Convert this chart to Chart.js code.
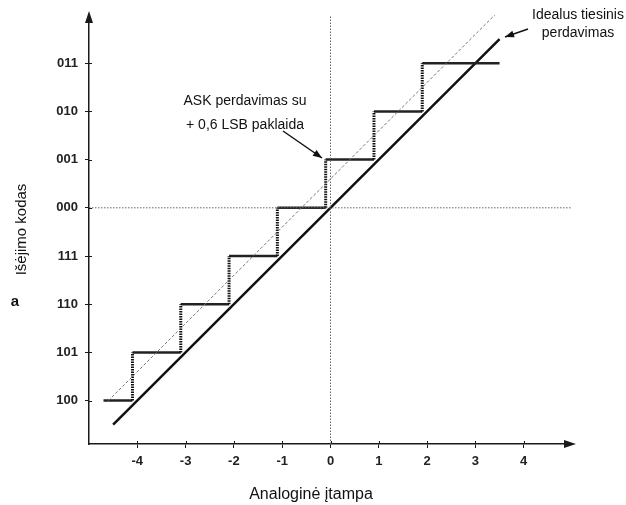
<!DOCTYPE html>
<html>
<head>
<meta charset="utf-8">
<script src="https://cdn.jsdelivr.net/npm/chart.js@4"></script>
<style>
  html, body { margin: 0; padding: 0; background: #fff; }
  #wrap { width: 626px; height: 505px; }
</style>
</head>
<body>
<div id="wrap"><canvas id="adcChart" width="626" height="505"></canvas></div>
<script>
// output codes, from the bottom up
const codeValues = [-4, -3, -2, -1, 0, 1, 2, 3];
const codeLabels = ["100", "101", "110", "111", "000", "001", "010", "011"];
const xTicks = [-4, -3, -2, -1, 0, 1, 2, 3, 4];

// staircase with +0,6 LSB error: step edges along x
const stepEdges = [-4.7, -4.1, -3.1, -2.1, -1.1, -0.1, 0.9, 1.9, 3.5];

// ideal linear transfer line
const idealLine = [{ x: -4.5, y: -4.5 }, { x: 3.5, y: 3.5 }];
// thin dashed shifted line
const shiftedLine = [{ x: -4.6, y: -4.0 }, { x: 3.5, y: 4.1 }];

const xMin = -5, xMax = 5, yMin = -4.9, yMax = 4;

// build the treads (horizontal parts) and the risers (vertical parts)
const treads = [];
const risers = [];
for (let i = 0; i < codeValues.length; i++) {
  treads.push({ x: stepEdges[i], y: codeValues[i] });
  treads.push({ x: stepEdges[i + 1], y: codeValues[i] });
  treads.push({ x: stepEdges[i + 1], y: null });
  if (i < codeValues.length - 1) {
    risers.push({ x: stepEdges[i + 1], y: codeValues[i] });
    risers.push({ x: stepEdges[i + 1], y: codeValues[i + 1] });
    risers.push({ x: stepEdges[i + 1], y: null });
  }
}

const axisColor = "#1a1a1a";
const fontFamily = "'Liberation Sans', Arial, sans-serif";

const decorPlugin = {
  id: "decor",
  afterDraw(c) {
    const ctx = c.ctx;
    const a = c.chartArea;
    const xs = c.scales.x, ys = c.scales.y;
    ctx.save();
    ctx.fillStyle = axisColor;
    // arrow heads on the axes
    ctx.beginPath();
    ctx.moveTo(a.right + 4, a.bottom);
    ctx.lineTo(a.right - 8, a.bottom - 4);
    ctx.lineTo(a.right - 8, a.bottom + 4);
    ctx.closePath();
    ctx.fill();
    ctx.beginPath();
    ctx.moveTo(a.left, a.top - 4);
    ctx.lineTo(a.left - 4, a.top + 8);
    ctx.lineTo(a.left + 4, a.top + 8);
    ctx.closePath();
    ctx.fill();

    // short inner part of the tick marks
    ctx.strokeStyle = axisColor;
    ctx.lineWidth = 1;
    xTicks.forEach(v => {
      const px = Math.round(xs.getPixelForValue(v)) + 0.5;
      ctx.beginPath();
      ctx.moveTo(px, a.bottom);
      ctx.lineTo(px, a.bottom - 3);
      ctx.stroke();
    });
    codeValues.forEach(v => {
      const py = Math.round(ys.getPixelForValue(v)) + 0.5;
      ctx.beginPath();
      ctx.moveTo(a.left, py);
      ctx.lineTo(a.left + 3, py);
      ctx.stroke();
    });

    // annotations
    ctx.fillStyle = "#111";
    ctx.textAlign = "center";
    ctx.textBaseline = "middle";
    ctx.font = "16px " + fontFamily;
    ctx.fillText("Analoginė įtampa", 311, 495);
    ctx.font = "14px " + fontFamily;
    ctx.fillText("ASK perdavimas su", 245, 101);
    ctx.fillText("+ 0,6 LSB paklaida", 245, 125);
    ctx.fillText("Idealus tiesinis", 578, 15);
    ctx.fillText("perdavimas", 578, 33);
    ctx.font = "bold 15px " + fontFamily;
    ctx.fillText("a", 15, 302);

    const arrow = (x1, y1, x2, y2) => {
      ctx.strokeStyle = "#111";
      ctx.lineWidth = 1.5;
      ctx.beginPath();
      ctx.moveTo(x1, y1);
      ctx.lineTo(x2, y2);
      ctx.stroke();
      const ang = Math.atan2(y2 - y1, x2 - x1);
      ctx.beginPath();
      ctx.moveTo(x2, y2);
      ctx.lineTo(x2 - 9 * Math.cos(ang) + 3.5 * Math.sin(ang), y2 - 9 * Math.sin(ang) - 3.5 * Math.cos(ang));
      ctx.lineTo(x2 - 9 * Math.cos(ang) - 3.5 * Math.sin(ang), y2 - 9 * Math.sin(ang) + 3.5 * Math.cos(ang));
      ctx.closePath();
      ctx.fill();
    };
    arrow(283, 131, 322, 158);
    arrow(528, 29, 505, 37);
    ctx.restore();
  }
};

const ctx = document.getElementById("adcChart").getContext("2d");
const chart = new Chart(ctx, {
  type: "scatter",
  data: {
    datasets: [
      {
        label: "zero x",
        data: [{ x: xMin, y: 0 }, { x: xMax, y: 0 }],
        showLine: true, pointRadius: 0,
        borderColor: "#666", borderWidth: 1, borderDash: [1.5, 1.5]
      },
      {
        label: "zero y",
        data: [{ x: 0, y: yMin }, { x: 0, y: yMax }],
        showLine: true, pointRadius: 0,
        borderColor: "#666", borderWidth: 1, borderDash: [1.5, 1.5]
      },
      {
        label: "shifted",
        data: shiftedLine,
        showLine: true, pointRadius: 0,
        borderColor: "#777", borderWidth: 1, borderDash: [3, 2]
      },
      {
        label: "risers",
        data: risers,
        showLine: true, pointRadius: 0, spanGaps: false,
        borderColor: "#111", borderWidth: 3, borderDash: [1.5, 1]
      },
      {
        label: "treads",
        data: treads,
        showLine: true, pointRadius: 0, spanGaps: false,
        borderColor: "#222", borderWidth: 2.5
      },
      {
        label: "ideal",
        data: idealLine,
        showLine: true, pointRadius: 0,
        borderColor: "#111", borderWidth: 2.5
      }
    ]
  },
  options: {
    responsive: false,
    animation: false,
    layout: { padding: { left: 0, top: 15, right: 54, bottom: 0 } },
    plugins: {
      legend: { display: false },
      tooltip: { enabled: false }
    },
    scales: {
      x: {
        type: "linear",
        min: xMin, max: xMax,
        afterBuildTicks: s => { s.ticks = xTicks.map(v => ({ value: v })); },
        afterFit: s => { s.height = 61; },
        grid: { drawOnChartArea: false, tickLength: 4, color: axisColor, tickWidth: 1 },
        border: { color: axisColor, width: 1.5 },
        ticks: {
          color: "#222", padding: 6,
          font: { family: fontFamily, size: 13, weight: "bold" }
        }
      },
      y: {
        type: "linear",
        min: yMin, max: yMax,
        afterBuildTicks: s => { s.ticks = codeValues.map(v => ({ value: v })); },
        afterFit: s => { s.width = 89; },
        grid: { drawOnChartArea: false, tickLength: 4, color: axisColor, tickWidth: 1 },
        border: { color: axisColor, width: 1.5 },
        ticks: {
          color: "#222", padding: 7,
          font: { family: fontFamily, size: 13, weight: "bold" },
          callback: v => codeLabels[codeValues.indexOf(v)]
        },
        title: {
          display: true, text: "Išėjimo kodas", color: "#111",
          font: { family: fontFamily, size: 15 },
          padding: { top: 13, bottom: 0 }
        }
      }
    }
  },
  plugins: [decorPlugin]
});
</script>
</body>
</html>
